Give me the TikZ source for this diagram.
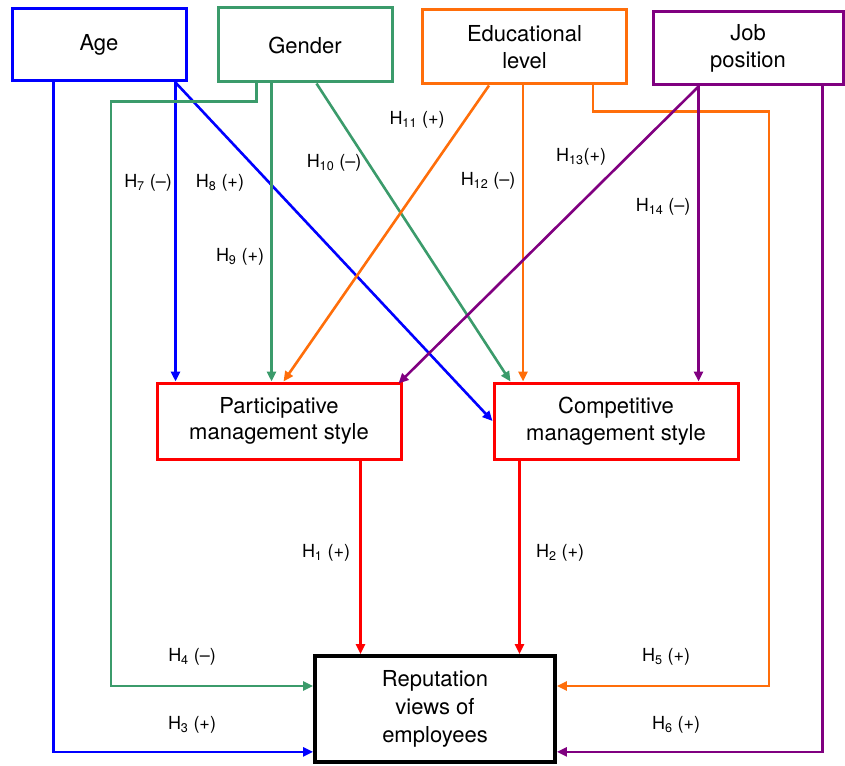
\documentclass[tikz,border=0pt]{standalone}
\usepackage{fontspec}
\setmainfont{TeX Gyre Heros}
\usetikzlibrary{arrows.meta}
\definecolor{cblue}{RGB}{0,0,255}
\definecolor{cgreen}{RGB}{59,155,107}
\definecolor{corange}{RGB}{255,110,10}
\definecolor{cpurple}{RGB}{128,0,128}
\definecolor{cred}{RGB}{255,0,0}
\tikzset{
  boxnode/.style={draw, line width=3pt, rectangle, inner sep=0pt, align=center, font=\fontsize{22}{26.5}\selectfont},
  conn/.style={line width=2.6pt, -{Triangle[length=10pt,width=9pt]}},
  hlabel/.style={font=\fontsize{18}{20}\selectfont, inner sep=0pt}
}
\begin{document}
\begin{tikzpicture}[x=1pt,y=-1pt]
\useasboundingbox (0,0) rectangle (845,765);
% boxes
\node[boxnode, cblue, text=black, minimum width=174pt, minimum height=72pt] (age) at (99,45) {Age};
\node[boxnode, cgreen, text=black, minimum width=174pt, minimum height=74pt] (gen) at (305,45) {Gender};
\node[boxnode, corange, text=black, minimum width=204pt, minimum height=74pt] (edu) at (524.5,47) {Educational\\level};
\node[boxnode, cpurple, text=black, minimum width=190pt, minimum height=73pt] (job) at (748,48.5) {Job\\position};
\node[boxnode, cred, text=black, minimum width=244pt, minimum height=76pt] (part) at (279,421) {Participative\\management style};
\node[boxnode, cred, text=black, minimum width=244pt, minimum height=76pt] (comp) at (616,421) {Competitive\\management style};
\node[boxnode, black, line width=3.8pt, minimum width=240pt, minimum height=106pt, font=\fontsize{22}{28}\selectfont] (rep) at (435,709) {Reputation\\views of\\employees};
% start coordinates
\coordinate (a1) at ([xshift=43pt]age.south west);
\coordinate (a2) at ([xshift=165pt]age.south west);
\coordinate (g1) at ([xshift=40pt]gen.south west);
\coordinate (g2) at ([xshift=55pt]gen.south west);
\coordinate (g3) at ([xshift=100pt]gen.south west);
\coordinate (e1) at ([xshift=68pt]edu.south west);
\coordinate (e2) at ([xshift=102pt]edu.south west);
\coordinate (e3) at ([xshift=172pt]edu.south west);
\coordinate (j1) at ([xshift=47pt]job.south west);
\coordinate (j2) at ([xshift=171pt]job.south west);
\coordinate (p1) at ([xshift=205pt]part.south west);
\coordinate (c1) at ([xshift=27pt]comp.south west);
\coordinate (r3) at ([yshift=12pt]rep.south west);
\coordinate (r4) at ([yshift=23pt]rep.west);
\coordinate (r5) at ([yshift=23pt]rep.east);
\coordinate (r6) at ([yshift=12pt]rep.south east);
% age
\draw[conn, cblue] (a1) |- (r3);
\draw[conn, cblue] (a2) -- (a2 |- part.north);
\draw[conn, cblue] (a2) -- (comp.west);
% gender
\draw[conn, cgreen] (g1) -- ++(0,18) -| ([xshift=-202pt]r4) -- (r4);
\draw[conn, cgreen] (g2) -- (g2 |- part.north);
\draw[conn, cgreen] (g3) -- ([xshift=18pt]comp.north west);
% education
\draw[conn, corange] (e1) -- ([xshift=128pt]part.north west);
\draw[conn, corange] (e2) -- (e2 |- comp.north);
\draw[conn, corange] (e3) -- ++(0,26) -| ([xshift=212pt]r5) -- (r5);
% job
\draw[conn, cpurple] (j1) -- ([xshift=-4pt,yshift=-2pt]part.north east);
\draw[conn, cpurple] (j1) -- (j1 |- comp.north);
\draw[conn, cpurple] (j2) |- (r6);
% red
\draw[conn, cred] (p1) -- (p1 |- rep.north);
\draw[conn, cred] (c1) -- (c1 |- rep.north);
% labels
\node[hlabel] (h1) at (326,553) {H\textsubscript{1} (+)};
\node[hlabel] (h2) at (560,553) {H\textsubscript{2} (+)};
\node[hlabel] (h3) at (192,725) {H\textsubscript{3} (+)};
\node[hlabel] (h4) at (192,657) {H\textsubscript{4} (–)};
\node[hlabel] (h5) at (666,657) {H\textsubscript{5} (+)};
\node[hlabel] (h6) at (676,725) {H\textsubscript{6} (+)};
\node[hlabel] (h7) at (148,183) {H\textsubscript{7} (–)};
\node[hlabel] (h8) at (220,183) {H\textsubscript{8} (+)};
\node[hlabel] (h9) at (240,257) {H\textsubscript{9} (+)};
\node[hlabel] (h10) at (334,163) {H\textsubscript{10} (–)};
\node[hlabel] (h11) at (417,120) {H\textsubscript{11} (+)};
\node[hlabel] (h12) at (488,181) {H\textsubscript{12} (–)};
\node[hlabel] (h13) at (581,157) {H\textsubscript{13}(+)};
\node[hlabel] (h14) at (663,207) {H\textsubscript{14} (–)};
\end{tikzpicture}
\end{document}
